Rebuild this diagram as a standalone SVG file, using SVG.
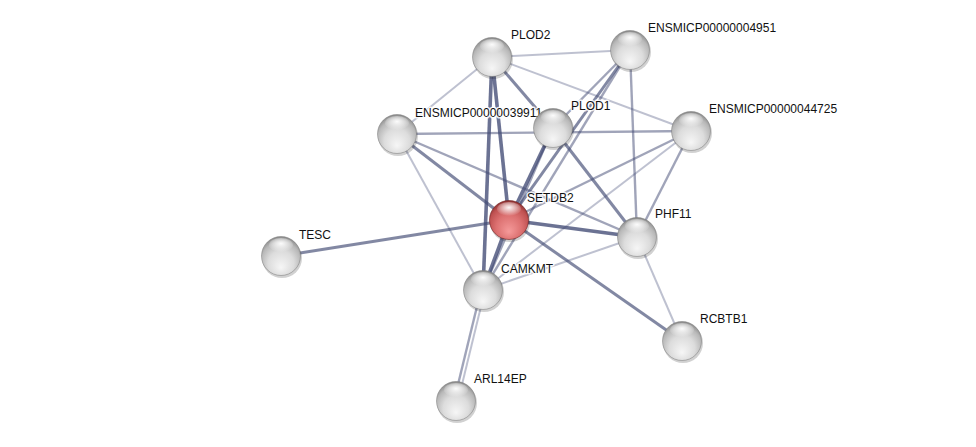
<svg xmlns="http://www.w3.org/2000/svg" width="976" height="447" viewBox="0 0 976 447">
<style>
.e{stroke:#414a74;fill:none;stroke-linecap:butt}
.e1{stroke-width:3.6;stroke-opacity:0.78}
.e2{stroke-width:3;stroke-opacity:0.66}
.e3{stroke-width:2.4;stroke-opacity:0.5}
.e4{stroke-width:2;stroke-opacity:0.34}
.lbl{font-family:"Liberation Sans",Arial,sans-serif;font-size:12px;fill:#111;stroke:#fff;stroke-width:3;stroke-opacity:0.85;paint-order:stroke;stroke-linejoin:round}
.n{fill:url(#gGray);stroke:#777;stroke-width:0.5}
.nr{fill:url(#gRed);stroke:#6e2020;stroke-width:0.6}
.hl{fill:url(#gHi)}
.sh{fill:#000;fill-opacity:0.18}
</style>
<defs>
<radialGradient id="gGray" cx="0.5" cy="0.62" r="0.6" fx="0.5" fy="0.8">
<stop offset="0" stop-color="#f6f6f6"/>
<stop offset="0.55" stop-color="#dcdcdc"/>
<stop offset="0.85" stop-color="#b8b8b8"/>
<stop offset="1" stop-color="#8e8e8e"/>
</radialGradient>
<radialGradient id="gRed" cx="0.5" cy="0.62" r="0.6" fx="0.5" fy="0.8">
<stop offset="0" stop-color="#f59a9a"/>
<stop offset="0.55" stop-color="#dc7070"/>
<stop offset="0.85" stop-color="#c05252"/>
<stop offset="1" stop-color="#933434"/>
</radialGradient>
<radialGradient id="gHi" cx="0.5" cy="0.4" r="0.6">
<stop offset="0" stop-color="#fff" stop-opacity="0.95"/>
<stop offset="0.55" stop-color="#fff" stop-opacity="0.45"/>
<stop offset="1" stop-color="#fff" stop-opacity="0"/>
</radialGradient>
</defs>
<rect width="976" height="447" fill="#fff"/>
<g id="edges">
<line class="e e4" x1="492" y1="57" x2="630" y2="50"/>
<line class="e e4" x1="492" y1="57" x2="397" y2="134"/>
<line class="e e4" x1="492" y1="57" x2="691" y2="131"/>
<line class="e e1" x1="492" y1="57" x2="509" y2="220"/>
<line class="e e1" x1="492" y1="57" x2="483" y2="290"/>
<line class="e e2" x1="492" y1="57" x2="553" y2="128"/>
<line class="e e3" x1="630" y1="50" x2="553" y2="128"/>
<line class="e e2" x1="630" y1="50" x2="509" y2="220"/>
<line class="e e3" x1="630" y1="50" x2="483" y2="290"/>
<line class="e e3" x1="630" y1="50" x2="637" y2="237"/>
<line class="e e3" x1="397" y1="134" x2="691" y2="131"/>
<line class="e e3" x1="691" y1="131" x2="509" y2="220"/>
<line class="e e4" x1="691" y1="131" x2="483" y2="290"/>
<line class="e e3" x1="691" y1="131" x2="637" y2="237"/>
<line class="e e2" x1="553" y1="128" x2="637" y2="237"/>
<line class="e e1" x1="553" y1="128" x2="509" y2="220"/>
<line class="e e3" x1="553" y1="128" x2="483" y2="290"/>
<line class="e e2" x1="397" y1="134" x2="509" y2="220"/>
<line class="e e3" x1="397" y1="134" x2="637" y2="237"/>
<line class="e e4" x1="397" y1="134" x2="483" y2="290"/>
<line class="e e2" x1="509" y1="220" x2="281" y2="256"/>
<line class="e e1" x1="509" y1="220" x2="637" y2="237"/>
<line class="e e1" x1="509" y1="220" x2="483" y2="290"/>
<line class="e e2" x1="509" y1="220" x2="682" y2="341"/>
<line class="e e4" x1="483" y1="290" x2="637" y2="237"/>
<line class="e e3" x1="481" y1="290" x2="454" y2="401"/>
<line class="e e4" x1="485" y1="290" x2="458" y2="401"/>
<line class="e e4" x1="637" y1="237" x2="682" y2="341"/>
</g>
<g id="PLOD2"><circle class="sh" cx="493" cy="59" r="20"/><circle class="n" cx="492" cy="57" r="19.5"/><ellipse class="hl" cx="492" cy="46" rx="12" ry="7"/><text class="lbl" x="511" y="39">PLOD2</text></g>
<g id="ENSMICP00000004951"><circle class="sh" cx="631" cy="52" r="20"/><circle class="n" cx="630" cy="50" r="19.5"/><ellipse class="hl" cx="630" cy="39" rx="12" ry="7"/><text class="lbl" x="648" y="32">ENSMICP00000004951</text></g>
<g id="ENSMICP00000039911"><circle class="sh" cx="398" cy="136" r="20"/><circle class="n" cx="397" cy="134" r="19.5"/><ellipse class="hl" cx="397" cy="123" rx="12" ry="7"/><text class="lbl" x="415" y="117">ENSMICP00000039911</text></g>
<g id="PLOD1"><circle class="sh" cx="554" cy="130" r="20"/><circle class="n" cx="553" cy="128" r="19.5"/><ellipse class="hl" cx="553" cy="117" rx="12" ry="7"/><text class="lbl" x="571" y="110">PLOD1</text></g>
<g id="ENSMICP00000044725"><circle class="sh" cx="692" cy="133" r="20"/><circle class="n" cx="691" cy="131" r="19.5"/><ellipse class="hl" cx="691" cy="120" rx="12" ry="7"/><text class="lbl" x="709" y="113">ENSMICP00000044725</text></g>
<g id="SETDB2"><circle class="sh" cx="510" cy="222" r="20"/><circle class="nr" cx="509" cy="220" r="19.5"/><ellipse class="hl" cx="509" cy="209" rx="12" ry="7"/><text class="lbl" x="527" y="202">SETDB2</text></g>
<g id="PHF11"><circle class="sh" cx="638" cy="239" r="20"/><circle class="n" cx="637" cy="237" r="19.5"/><ellipse class="hl" cx="637" cy="226" rx="12" ry="7"/><text class="lbl" x="655" y="218">PHF11</text></g>
<g id="TESC"><circle class="sh" cx="282" cy="258" r="20"/><circle class="n" cx="281" cy="256" r="19.5"/><ellipse class="hl" cx="281" cy="245" rx="12" ry="7"/><text class="lbl" x="299" y="239">TESC</text></g>
<g id="CAMKMT"><circle class="sh" cx="484" cy="292" r="20"/><circle class="n" cx="483" cy="290" r="19.5"/><ellipse class="hl" cx="483" cy="279" rx="12" ry="7"/><text class="lbl" x="501" y="273">CAMKMT</text></g>
<g id="RCBTB1"><circle class="sh" cx="683" cy="343" r="20"/><circle class="n" cx="682" cy="341" r="19.5"/><ellipse class="hl" cx="682" cy="330" rx="12" ry="7"/><text class="lbl" x="700" y="323">RCBTB1</text></g>
<g id="ARL14EP"><circle class="sh" cx="457" cy="403" r="20"/><circle class="n" cx="456" cy="401" r="19.5"/><ellipse class="hl" cx="456" cy="390" rx="12" ry="7"/><text class="lbl" x="474" y="383">ARL14EP</text></g>
</svg>
